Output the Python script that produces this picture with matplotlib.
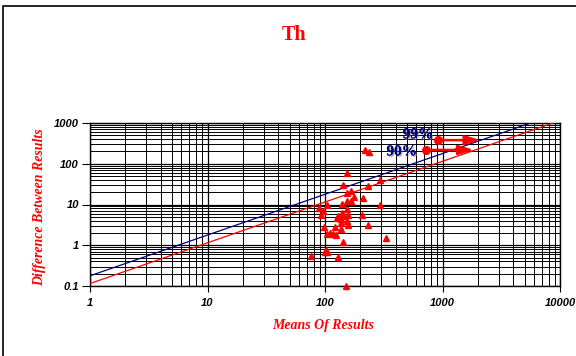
import matplotlib
matplotlib.use("Agg")
import matplotlib.pyplot as plt
import matplotlib.patheffects as pe
from matplotlib.patches import Rectangle, FancyArrowPatch
import numpy as np

# Data
means = [219, 238, 155, 294, 234, 143, 153, 166, 177, 209, 155, 166, 105, 140, 294,
         89, 96, 155, 92, 139, 130, 143, 156, 205, 127, 136, 153, 136, 158, 234,
         98, 122, 136, 105, 110, 116, 124, 329, 143, 102, 105, 100, 76, 129, 151]
diffs = [217, 198, 58.3, 39.9, 28.4, 30.1, 19.5, 21.4, 15.0, 14.7, 12.4, 12.4, 9.7, 10.1, 9.5,
         8.1, 6.9, 7.6, 5.5, 6.1, 5.2, 5.2, 5.4, 5.4, 4.7, 4.3, 3.9, 3.5, 3.2, 3.1,
         2.85, 2.85, 2.55, 1.86, 1.96, 1.89, 1.78, 1.51, 1.20, 0.76, 0.70, 0.70, 0.54, 0.52, 0.1]

limit_x = [1, 10000]
slope_99 = 0.178
slope_90 = 0.115

labels = ["99%", "90%"]
label_pos = [(830, 512), (605, 195)]
arrow_start = [(910, 380), (724, 218)]
arrow_end = [(2100, 380), (1850, 218)]

xticks = [1, 10, 100, 1000, 10000]
xticklabels = ["1", "10", "100", "1000", "10000"]
yticks = [0.1, 1, 10, 100, 1000]
yticklabels = ["0.1", "1", "10", "100", "1000"]

W, H = 576, 356
fig = plt.figure(figsize=(W / 100, H / 100), dpi=100)
fig.patch.set_facecolor("white")

# figure border
fig.patches.append(Rectangle((3 / W, -0.1), 1.2, (H - 6) / H + 0.1, transform=fig.transFigure,
                             fill=False, edgecolor="black", linewidth=1.2, zorder=10))

ax = fig.add_axes([90 / W, 1 - 286 / H, (560 - 90) / W, (286 - 123) / H])
ax.set_xscale("log")
ax.set_yscale("log")
ax.set_xlim(1, 10000)
ax.set_ylim(0.1, 1000)

ax.grid(True, which="major", color="black", linewidth=0.9)
ax.grid(True, which="minor", color="black", linewidth=0.7)
ax.set_axisbelow(True)

lx = np.array(limit_x, dtype=float)
ax.plot(lx, slope_99 * lx, color="#000080", linewidth=0.9, zorder=3)
ax.plot(lx, slope_90 * lx, color="red", linewidth=0.9, zorder=3)

ax.plot(means, diffs, linestyle="none", marker="^", color="red", markersize=4.5, zorder=4,
        clip_on=False)

for lab, lp, st, en in zip(labels, label_pos, arrow_start, arrow_end):
    ax.text(lp[0], lp[1], lab, ha="right", va="center", color="#000080",
            fontfamily="Liberation Serif", fontweight="bold", fontsize=11, zorder=6,
            path_effects=[pe.withSimplePatchShadow(offset=(1, -1), shadow_rgbFace="gray", alpha=0.6),
                          pe.Normal()])
    ax.plot([st[0]], [st[1]], marker="o", color="red", markersize=5.5, zorder=6)
    arr = FancyArrowPatch(st, en, transform=ax.transData,
                          arrowstyle="-|>,head_length=0.9,head_width=0.28",
                          mutation_scale=10, color="red", linewidth=1.8,
                          shrinkA=0, shrinkB=0, zorder=6)
    ax.add_patch(arr)

ax.set_xticks(xticks)
ax.set_xticklabels(xticklabels)
ax.set_yticks(yticks)
ax.set_yticklabels(yticklabels)
ax.tick_params(which="minor", length=0)
ax.tick_params(axis="y", which="major", length=6, width=0.8, pad=2, direction="out")
ax.tick_params(axis="x", which="major", length=4, width=0.8, pad=5, direction="out")
for t in ax.get_xticklabels() + ax.get_yticklabels():
    t.set_fontfamily("Liberation Sans")
    t.set_fontweight("bold")
    t.set_fontstyle("italic")
    t.set_fontsize(8)

for s in ax.spines.values():
    s.set_color("black")
    s.set_linewidth(1.0)

fig.text(294 / W, 1 - 35 / H, "Th", ha="center", va="center", color="red",
         fontfamily="Liberation Serif", fontweight="bold", fontsize=14.5)
fig.text(323 / W, 1 - 325 / H, "Means Of Results", ha="center", va="center", color="red",
         fontfamily="Liberation Serif", fontweight="bold", fontstyle="italic", fontsize=10)
fig.text(40 / W, 1 - 207 / H, "Difference Between Results", ha="center", va="center",
         rotation=90, color="red",
         fontfamily="Liberation Serif", fontweight="bold", fontstyle="italic", fontsize=10)

fig.savefig("out.png", dpi=100)
